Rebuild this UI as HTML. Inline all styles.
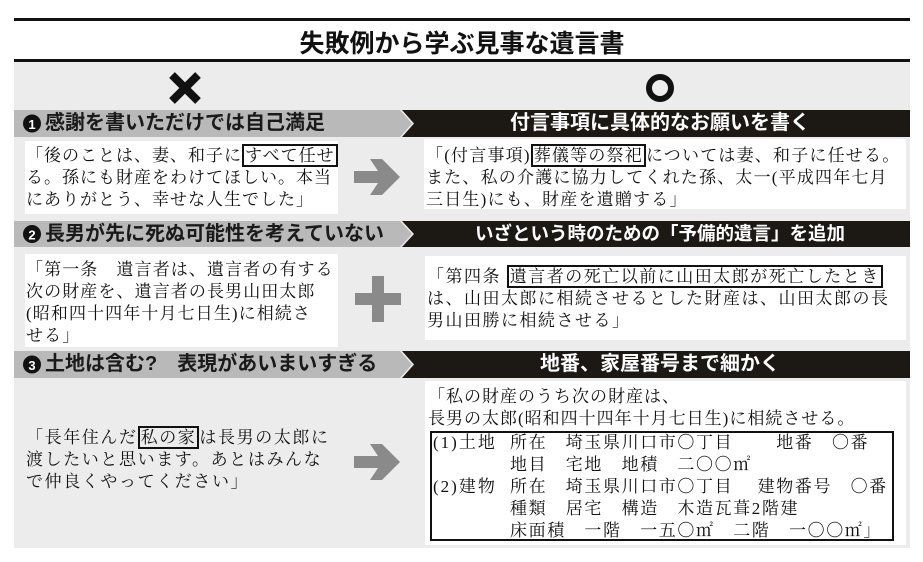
<!DOCTYPE html>
<html><head><meta charset="utf-8"><style>
*{margin:0;padding:0;box-sizing:border-box}
body{width:923px;height:562px;background:#fff;position:relative;overflow:hidden;font-family:"Liberation Sans","Noto Sans CJK JP",sans-serif}
.a{position:absolute}
.t{position:absolute;font-family:"Liberation Serif","Noto Serif CJK SC",serif;color:#111;white-space:pre;line-height:22px}
.box{position:absolute;background:#fff}
.hl{font-weight:bold;font-size:20px;color:#1a1a1a;position:absolute;white-space:pre;line-height:24px}
.hr{font-weight:bold;font-size:20px;color:#fff;position:absolute;text-align:center;width:500px;left:410px;line-height:24px}
.k{border:2px solid #111;padding:0 1px}
</style></head><body>
<div class="a" style="left:14px;top:18px;width:896px;height:3px;background:#111"></div>
<div class="a" style="left:14px;top:24px;width:896px;text-align:center;font-weight:bold;font-size:25px;color:#111">失敗例から学ぶ見事な遺言書</div>
<div class="a" style="left:14px;top:59px;width:896px;height:3px;background:#111"></div>
<div class="a" style="left:14px;top:62px;width:896px;height:486px;background:#ececec"></div>
<svg class="a" style="left:0;top:0" width="923" height="562">
<path d="M172 75 L198 101 M198 75 L172 101" stroke="#111" stroke-width="8"/>
<circle cx="660" cy="88" r="11" fill="none" stroke="#111" stroke-width="6"/>
<polygon points="14,110 400,110 412,123.5 400,137 14,137" fill="#b9b9b9"/>
<polygon points="402,110 910,110 910,137 402,137 414,123.5" fill="#1c1814"/>
<polygon points="14,221 400,221 412,234 400,247 14,247" fill="#b9b9b9"/>
<polygon points="402,221 910,221 910,247 402,247 414,234" fill="#1c1814"/>
<polygon points="14,351 400,351 412,364.5 400,378 14,378" fill="#b9b9b9"/>
<polygon points="402,351 910,351 910,378 402,378 414,364.5" fill="#1c1814"/>
<circle cx="32" cy="123.5" r="9" fill="#111"/><text x="32" y="129" font-size="13" font-weight="bold" fill="#fff" text-anchor="middle" font-family="Liberation Sans">1</text>
<circle cx="32" cy="234" r="9" fill="#111"/><text x="32" y="239.5" font-size="13" font-weight="bold" fill="#fff" text-anchor="middle" font-family="Liberation Sans">2</text>
<circle cx="32" cy="364.5" r="9" fill="#111"/><text x="32" y="370" font-size="13" font-weight="bold" fill="#fff" text-anchor="middle" font-family="Liberation Sans">3</text>
</svg>
<div class="hl" style="left:45px;top:111px">感謝を書いただけでは自己満足</div>
<div class="hr" style="top:111px">付言事項に具体的なお願いを書く</div>
<div class="hl" style="left:45px;top:222px">長男が先に死ぬ可能性を考えていない</div>
<div class="hr" style="top:222px;font-size:18.5px">いざという時のための「予備的遺言」を追加</div>
<div class="hl" style="left:45px;top:352px">土地は含む?　表現があいまいすぎる</div>
<div class="hr" style="top:352px">地番、家屋番号まで細かく</div>

<div class="box" style="left:25px;top:141px;width:313px;height:73px"></div>
<div class="t" style="left:26px;top:145px;font-size:17px;letter-spacing:1px">「後のことは、妻、和子に<span class="k">すべて任せ</span>
る。孫にも財産をわけてほしい。本当
にありがとう、幸せな人生でした」</div>
<div class="box" style="left:424px;top:139px;width:482px;height:70px"></div>
<div class="t" style="left:426px;top:145px;font-size:17px;letter-spacing:1.2px">「(付言事項)<span class="k">葬儀等の祭祀</span>については妻、和子に任せる。
また、私の介護に協力してくれた孫、太一(平成四年七月
三日生)にも、財産を遺贈する」</div>

<div class="box" style="left:25px;top:254px;width:313px;height:93px"></div>
<div class="t" style="left:26px;top:259px;font-size:17px;letter-spacing:1.1px">「第一条　遺言者は、遺言者の有する
次の財産を、遺言者の長男山田太郎
(昭和四十四年十月七日生)に相続さ
せる」</div>
<div class="box" style="left:425px;top:256px;width:481px;height:84px"></div>
<div class="t" style="left:427px;top:266px;font-size:17px;letter-spacing:1.5px">「第四条 <span class="k">遺言者の死亡以前に山田太郎が死亡したとき</span>
は、山田太郎に相続させるとした財産は、山田太郎の長
男山田勝に相続させる」</div>

<div class="t" style="left:26px;top:427px;font-size:17px;letter-spacing:1.6px">「長年住んだ<span class="k">私の家</span>は長男の太郎に
渡したいと思います。あとはみんな
で仲良くやってください」</div>
<div class="box" style="left:425px;top:381px;width:481px;height:164px"></div>
<div class="t" style="left:428px;top:386px;font-size:17px;letter-spacing:1px">「私の財産のうち次の財産は、
長男の太郎(昭和四十四年十月七日生)に相続させる。</div>
<div class="a" style="left:430px;top:431px;width:464px;height:110px;border:2px solid #111"></div>
<div class="t" style="left:433px;top:432px;font-size:17px;letter-spacing:2px">(1)土地

(2)建物</div>
<div class="t" style="left:510px;top:432px;font-size:17px;letter-spacing:1.6px">所在　埼玉県川口市〇丁目　　 地番　〇番
地目　宅地　地積　二〇〇㎡
所在　埼玉県川口市〇丁目　 建物番号　〇番
種類　居宅　構造　木造瓦葺2階建
床面積　一階　一五〇㎡　二階　一〇〇㎡」</div>

<svg class="a" style="left:350px;top:155px" width="55" height="45"><polygon points="4,16 28,16 20,4 32,4 50,22 32,40 20,40 28,28 4,28" fill="#8a8a8a"/></svg>
<svg class="a" style="left:350px;top:440px" width="55" height="45"><polygon points="4,16 28,16 20,4 32,4 50,22 32,40 20,40 28,28 4,28" fill="#8a8a8a"/></svg>
<svg class="a" style="left:355px;top:276px" width="48" height="46"><rect x="0" y="17" width="46" height="12" fill="#8a8a8a"/><rect x="17" y="0" width="12" height="46" fill="#8a8a8a"/></svg>
</body></html>
